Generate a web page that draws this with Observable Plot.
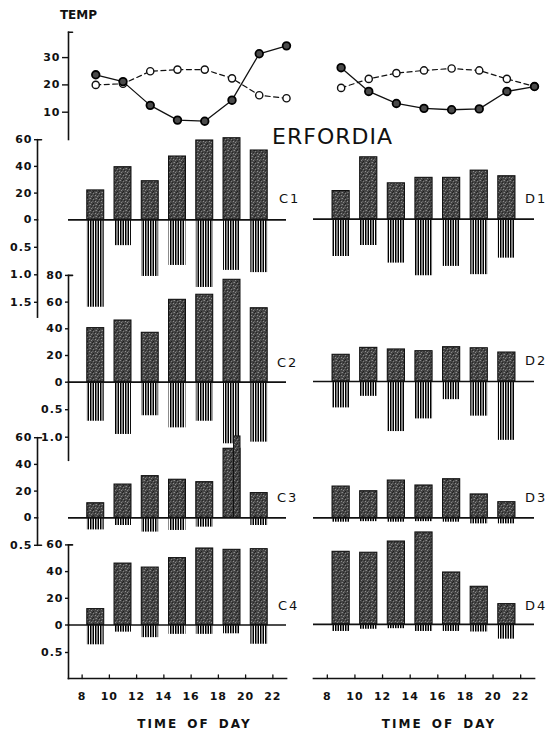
<!DOCTYPE html>
<html>
<head>
<meta charset="utf-8">
<script src="https://cdn.jsdelivr.net/npm/d3@7"></script>
<script src="https://cdn.jsdelivr.net/npm/@observablehq/plot@0.6"></script>
<style>
html, body { margin: 0; padding: 0; background: #fff; }
#chart { position: relative; width: 549px; height: 735px; overflow: hidden; background: #fff; font-family: "DejaVu Sans", sans-serif; color: #111; }
.lbl { position: absolute; white-space: nowrap; line-height: 1; }
</style>
</head>
<body>
<svg width="0" height="0" style="position:absolute">
  <defs>
    <pattern id="stipple" width="6" height="6" patternUnits="userSpaceOnUse">
      <rect width="6" height="6" fill="#454545"/>
      <rect x="0" y="0" width="1" height="1" fill="#8c8c8c"/>
      <rect x="3" y="1" width="1" height="1" fill="#7e7e7e"/>
      <rect x="5" y="3" width="1" height="1" fill="#909090"/>
      <rect x="1" y="4" width="1" height="1" fill="#858585"/>
      <rect x="2" y="0" width="1" height="1" fill="#222"/>
      <rect x="4" y="2" width="1" height="1" fill="#262626"/>
      <rect x="1" y="2" width="1" height="1" fill="#2a2a2a"/>
      <rect x="3" y="5" width="1" height="1" fill="#202020"/>
      <rect x="5" y="0" width="1" height="1" fill="#666"/>
      <rect x="2" y="3" width="1" height="1" fill="#666"/>
    </pattern>
    <pattern id="hatch" width="5" height="8" patternUnits="userSpaceOnUse">
      <rect x="0" y="0" width="1.5" height="8" fill="#000"/>
      <rect x="2.5" y="0" width="1.5" height="8" fill="#000"/>
    </pattern>
  </defs>
</svg>
<div id="chart"></div>
<script>
// ---------------- data ----------------
const hours = [9, 11, 13, 15, 17, 19, 21];
const tempHours = [9, 11, 13, 15, 17, 19, 21, 23];
const tickHours = [8, 10, 12, 14, 16, 18, 20, 22];

const tempCSolid  = [23.7, 21.2, 12.5, 7.1, 6.7, 14.4, 31.4, 34.3];
const tempCDashed = [20.0, 20.4, 25.0, 25.6, 25.6, 22.4, 16.2, 15.1];
const tempDSolid  = [26.3, 17.6, 13.2, 11.4, 10.9, 11.2, 17.6, 19.4];
const tempDDashed = [18.9, 22.2, 24.3, 25.3, 26.0, 25.3, 22.2, 19.4];
const tempTicks = [10, 20, 30];

const c1Up   = [22.0, 39.4, 28.9, 47.4, 59.4, 61.1, 51.9];
const c1Down = [1.59, 0.47, 1.03, 0.83, 1.23, 0.92, 0.96];
const d1Up   = [21.0, 46.3, 26.8, 30.9, 30.9, 36.3, 32.1];
const d1Down = [0.68, 0.48, 0.80, 1.03, 0.86, 1.01, 0.71];

const c2Up   = [40.5, 46.2, 37.0, 61.7, 65.5, 76.7, 55.4];
const c2Down = [0.71, 0.95, 0.61, 0.83, 0.71, 1.12, 1.09];
const d2Up   = [20.0, 25.2, 24.0, 22.7, 25.7, 24.9, 21.7];
const d2Down = [0.48, 0.27, 0.91, 0.68, 0.33, 0.63, 1.07];

const c3Up   = [10.9, 24.9, 31.2, 28.5, 26.7, 51.7, 18.5];
const c3Down = [0.22, 0.14, 0.26, 0.23, 0.17, 0.00, 0.14];
const c3Peak = [{h: 19, v: 60.9}];
const d3Up   = [23.4, 19.9, 27.9, 24.2, 28.9, 17.5, 11.7];
const d3Down = [0.08, 0.07, 0.08, 0.07, 0.08, 0.11, 0.11];

const c4Up   = [11.9, 46.0, 43.0, 50.1, 57.3, 56.3, 56.8];
const c4Down = [0.36, 0.13, 0.23, 0.17, 0.17, 0.16, 0.35];
const d4Up   = [54.3, 53.6, 62.0, 68.8, 38.8, 28.1, 15.1];
const d4Down = [0.13, 0.09, 0.08, 0.13, 0.13, 0.14, 0.27];

const ticks80 = [0, 20, 40, 60, 80];
const ticks60 = [0, 20, 40, 60];
const lowTicksC1 = [0.5, 1.0, 1.5];
const lowTicksC2 = [0.5, 1.0];
const lowTicksC3 = [0.5];
const lowTicksC4 = [0.5];

// ---------------- layout ----------------
const W = 549, H = 735;
const K = 1.335;   // px per % unit (upper bars)
const LPX = 55;    // px per unit (lower bars)
const LEFT_X = [68, 286], RIGHT_X = [313, 534];
const hourDomain = [7, 23];
const HALF = 0.62;
const chart = document.getElementById("chart");
const stub = {draw(ctx, l) { ctx.moveTo(0, 0); ctx.lineTo(0, -l); }};
const baseStyle = {
  position: "absolute", left: "0px", top: "0px", background: "transparent",
  overflow: "visible", fontFamily: "'DejaVu Sans', sans-serif", fontSize: "11px",
  fontWeight: "bold", letterSpacing: "1px", color: "#111"
};
const add = (svg) => chart.appendChild(svg);

function panel(p) {
  const rows = hours.map((h, i) => ({h, up: p.up[i], down: p.down[i]}));
  const xr = p.side === "L" ? LEFT_X : RIGHT_X;
  const topY = p.zero - p.upTop * K;
  const botY = p.zero + p.lowMax * LPX;
  const axisX = p.axisX ?? xr[0];

  const upMarks = [
    Plot.rect(rows, {x1: d => d.h - HALF, x2: d => d.h + HALF, y1: 0, y2: "up",
      fill: "url(#stipple)", stroke: "#111", strokeWidth: 1.1})
  ];
  if (p.extra) upMarks.push(Plot.rect(p.extra, {x1: d => d.h + 0.15, x2: d => d.h + HALF, y1: 0, y2: "v",
      fill: "url(#stipple)", stroke: "#111", strokeWidth: 1.1}));
  if (p.axis) upMarks.push(
    Plot.frame({anchor: "left", stroke: "#111", strokeWidth: 1.6}),
    Plot.axisY({ticks: p.upTicks, anchor: "left", tickSize: 3, tickPadding: 2, tickFormat: d => String(d), label: null, strokeWidth: 1.4}),
    Plot.vector([p.upTop], {y: d => d, frameAnchor: "left", rotate: 90, length: 4, anchor: "start", shape: stub, stroke: "#111", strokeWidth: 1.6})
  );
  add(Plot.plot({
    width: W, height: H,
    marginLeft: axisX, marginRight: W - xr[1], marginTop: topY, marginBottom: H - p.zero,
    x: {domain: hourDomain, range: xr, axis: null},
    y: {domain: [0, p.upTop], range: [p.zero, topY], axis: null},
    style: baseStyle,
    marks: upMarks
  }));

  const lowMarks = [
    Plot.rect(rows.filter(d => d.down > 0), {x1: d => d.h - HALF, x2: d => d.h + HALF, y1: 0, y2: "down",
      fill: "url(#hatch)"}),
    Plot.ruleY([0], {x1: 7, x2: 23, stroke: "#111", strokeWidth: 1.7})
  ];
  if (p.axis) lowMarks.push(
    Plot.frame({anchor: "left", stroke: "#111", strokeWidth: 1.6}),
    Plot.axisY({ticks: p.lowTicks, anchor: "left", tickSize: 3, tickPadding: 2, tickFormat: d3.format(".1f"), label: null, strokeWidth: 1.4})
  );
  if (p.capBottom) lowMarks.push(
    Plot.vector([p.lowMax], {y: d => d, frameAnchor: "left", rotate: 90, length: 4, anchor: "start", shape: stub, stroke: "#111", strokeWidth: 1.6})
  );
  if (p.bottomAxis) lowMarks.push(
    Plot.frame({anchor: "bottom", stroke: "#111", strokeWidth: 1.7}),
    Plot.vector(tickHours, {x: d => d, frameAnchor: "bottom", length: 3.5, anchor: "start", shape: stub, stroke: "#111", strokeWidth: 1.3}),
    Plot.axisX({ticks: tickHours, anchor: "bottom", tickSize: 0, tickPadding: 14, tickFormat: d => String(d), label: null})
  );
  add(Plot.plot({
    width: W, height: H,
    marginLeft: axisX, marginRight: W - xr[1], marginTop: p.zero, marginBottom: H - botY,
    x: {domain: hourDomain, range: xr, axis: null},
    y: {domain: [0, p.lowMax], range: [p.zero, botY], axis: null},
    style: baseStyle,
    marks: lowMarks
  }));
}

function tempPlot(side, solid, dashed, withAxis) {
  const xr = side === "L" ? LEFT_X : RIGHT_X;
  const sRows = tempHours.map((h, i) => ({h, v: solid[i]}));
  const dRows = tempHours.map((h, i) => ({h, v: dashed[i]}));
  const y0 = 139, yTop = 31.7, vTop = 39.3;
  const marks = [
    Plot.line(dRows, {x: "h", y: "v", stroke: "#111", strokeWidth: 1.2, strokeDasharray: "5,3.5"}),
    Plot.line(sRows, {x: "h", y: "v", stroke: "#111", strokeWidth: 1.3}),
    Plot.dot(dRows, {x: "h", y: "v", r: 3.6, fill: "white", stroke: "#111", strokeWidth: 1.4}),
    Plot.dot(sRows, {x: "h", y: "v", r: 3.8, fill: "#4a4a4a", stroke: "#000", strokeWidth: 1.8})
  ];
  if (withAxis) marks.push(
    Plot.frame({anchor: "left", stroke: "#111", strokeWidth: 1.6}),
    Plot.axisY({ticks: tempTicks, anchor: "left", tickSize: 6, tickPadding: 2, tickFormat: d => String(d), label: null, strokeWidth: 1.4}),
    Plot.vector([vTop], {y: d => d, frameAnchor: "left", rotate: 90, length: 4, anchor: "start", shape: stub, stroke: "#111", strokeWidth: 1.6})
  );
  add(Plot.plot({
    width: W, height: H,
    marginLeft: xr[0], marginRight: W - xr[1], marginTop: yTop, marginBottom: H - y0,
    x: {domain: hourDomain, range: xr, axis: null},
    y: {domain: [0, vTop], range: [y0, yTop], axis: null},
    style: baseStyle,
    marks
  }));
}

tempPlot("L", tempCSolid, tempCDashed, true);
tempPlot("R", tempDSolid, tempDDashed, false);

panel({side: "L", up: c1Up, down: c1Down, zero: 219.3, upTop: 60, lowMax: 1.77, axis: true, axisX: 37, upTicks: ticks60, lowTicks: lowTicksC1});
panel({side: "R", up: d1Up, down: d1Down, zero: 218.6, upTop: 60, lowMax: 1.2});
panel({side: "L", up: c2Up, down: c2Down, zero: 381.7, upTop: 80, lowMax: 1.42, axis: true, axisX: 68, upTicks: ticks80, lowTicks: lowTicksC2});
panel({side: "R", up: d2Up, down: d2Down, zero: 381.0, upTop: 60, lowMax: 1.2});
panel({side: "L", up: c3Up, down: c3Down, zero: 517.3, upTop: 60, lowMax: 0.5, axis: true, axisX: 37, upTicks: ticks60, lowTicks: lowTicksC3, capBottom: true, extra: c3Peak});
panel({side: "R", up: d3Up, down: d3Down, zero: 517.3, upTop: 60, lowMax: 0.3});
panel({side: "L", up: c4Up, down: c4Down, zero: 624.5, upTop: 60, lowMax: (678 - 624.5) / LPX, axis: true, axisX: 68, upTicks: ticks60, lowTicks: lowTicksC4, bottomAxis: true});
panel({side: "R", up: d4Up, down: d4Down, zero: 623.8, upTop: 60, lowMax: (678 - 623.8) / LPX, bottomAxis: true});

// ---------------- text ----------------
function label(text, x, y, css, center) {
  const el = document.createElement("div");
  el.className = "lbl";
  el.textContent = text;
  el.style.left = x + "px";
  el.style.top = y + "px";
  el.style.transform = center ? "translate(-50%, -50%)" : "translate(0, -50%)";
  Object.assign(el.style, css);
  chart.appendChild(el);
}
label("TEMP", 78.5, 15, {fontSize: "12px", fontWeight: "bold"}, true);
label("ERFORDIA", 332.5, 136.5, {fontSize: "22px", letterSpacing: "1px"}, true);
const panelCss = {fontSize: "13px", letterSpacing: "2px"};
label("C1", 279, 198, panelCss);
label("D1", 525, 198, panelCss);
label("C2", 277, 362, panelCss);
label("D2", 525, 360, panelCss);
label("C3", 277, 497, panelCss);
label("D3", 525, 497, panelCss);
label("C4", 278, 605, panelCss);
label("D4", 525, 605, panelCss);
const axisTitleCss = {fontSize: "12px", fontWeight: "bold", letterSpacing: "2px", wordSpacing: "3px"};
label("TIME OF DAY", 194.5, 724, axisTitleCss, true);
label("TIME OF DAY", 439, 724, axisTitleCss, true);
</script>
</body>
</html>
